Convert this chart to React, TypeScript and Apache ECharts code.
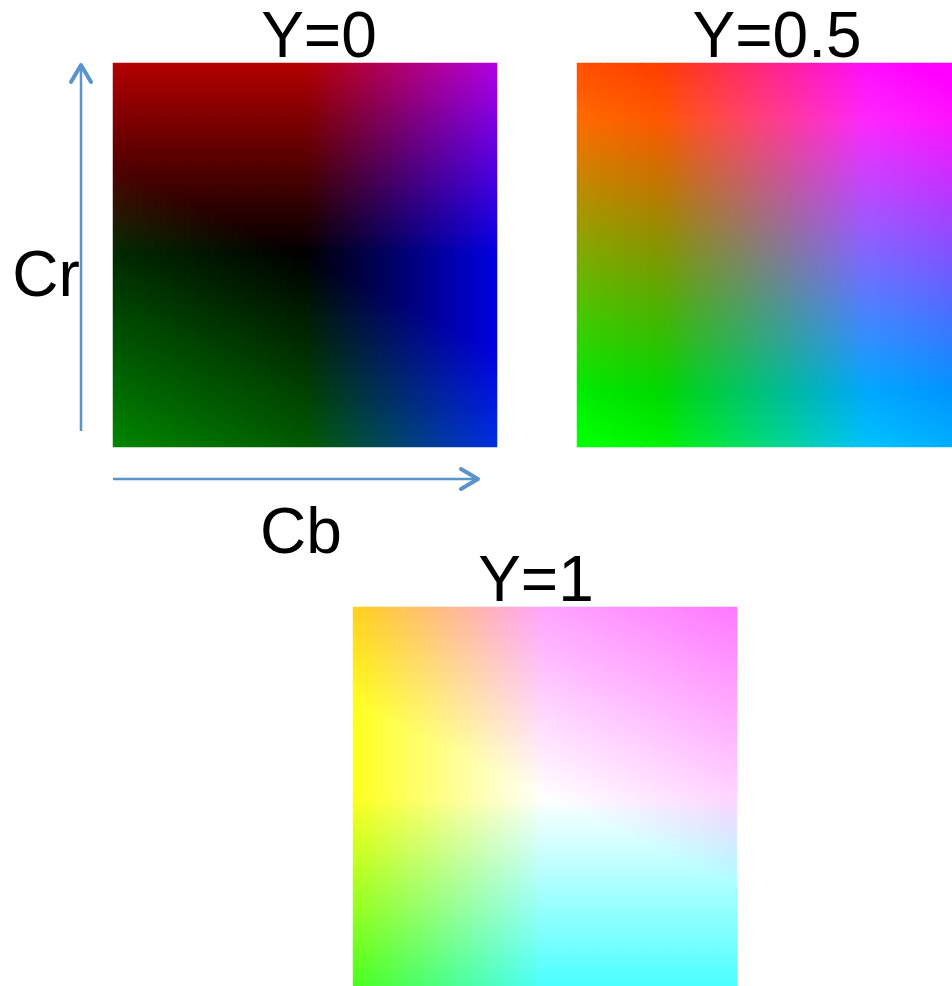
import React, { useEffect, useRef } from "react";
import * as echarts from "echarts";

// Luma levels shown in the three panels and their titles
const lumaLevels = [0, 0.5, 1];
const panelTitles = ["Y=0", "Y=0.5", "Y=1"];
// Chroma range of each panel (Cb horizontal, Cr vertical) and its sampling resolution
const chromaRange = [-0.5, 0.5];
const chromaSamples = 64;
// Axis labels
const axisNames = { horizontal: "Cb", vertical: "Cr" };

const chromaValues: number[] = [];
for (let i = 0; i < chromaSamples; i++) {
  chromaValues.push(
    chromaRange[0] + ((i + 0.5) / chromaSamples) * (chromaRange[1] - chromaRange[0])
  );
}

function clamp01(v: number) {
  return Math.max(0, Math.min(1, v));
}

// YCbCr (full range, BT.601) -> RGB colour
function ycbcrToRgb(y: number, cb: number, cr: number) {
  const r = clamp01(y + 1.402 * cr);
  const g = clamp01(y - 0.344136 * cb - 0.714136 * cr);
  const b = clamp01(y + 1.772 * cb);
  return `rgb(${Math.round(r * 255)},${Math.round(g * 255)},${Math.round(b * 255)})`;
}

const panelLayout = [
  { left: 113, top: 63 },
  { left: 577, top: 63 },
  { left: 353, top: 607 },
];
const titlePos = [
  { x: 319, y: 35 },
  { x: 777, y: 35 },
  { x: 536, y: 579 },
];

export default function App() {
  const ref = useRef<HTMLDivElement>(null);
  useEffect(() => {
    if (!ref.current) return;
    const chart = echarts.init(ref.current, null, { renderer: "svg" });
    const cats = chromaValues.map((v) => v.toFixed(4));
    const grids = panelLayout.map((p) => ({
      left: p.left,
      top: p.top,
      width: 384,
      height: 384,
      containLabel: false,
    }));
    const xAxes = lumaLevels.map((_, i) => ({
      type: "category",
      gridIndex: i,
      data: cats,
      show: false,
    }));
    const yAxes = lumaLevels.map((_, i) => ({
      type: "category",
      gridIndex: i,
      data: cats,
      show: false,
    }));
    const series = lumaLevels.map((yl, i) => {
      const data: number[][] = [];
      const colors: string[] = [];
      chromaValues.forEach((cb, xi) => {
        chromaValues.forEach((cr, yi) => {
          data.push([xi, yi]);
          colors.push(ycbcrToRgb(yl, cb, cr));
        });
      });
      return {
        type: "custom",
        xAxisIndex: i,
        yAxisIndex: i,
        data,
        silent: true,
        progressive: 0,
        clip: false,
        renderItem: (params: any, api: any) => {
          const pt = api.coord([api.value(0), api.value(1)]);
          const sz = api.size([1, 1]);
          const w = Math.ceil(sz[0]);
          const h = Math.ceil(sz[1]);
          const c = colors[params.dataIndex];
          return {
            type: "rect",
            shape: {
              x: Math.round(pt[0] - sz[0] / 2),
              y: Math.round(pt[1] - sz[1] / 2),
              width: w,
              height: h,
            },
            style: { fill: c, stroke: c, lineWidth: 0.5 },
            silent: true,
          };
        },
      };
    });
    const arrowColor = "#5b93cc";
    const textStyle = (t: string, x: number, y: number) => ({
      type: "text",
      x,
      y,
      silent: true,
      style: {
        text: t,
        fontFamily: "Liberation Sans, Arial, sans-serif",
        fontSize: 64,
        fill: "#000",
        textAlign: "center",
        textVerticalAlign: "middle",
      },
    });
    const graphic: any[] = [
      ...panelTitles.map((t, i) => textStyle(t, titlePos[i].x, titlePos[i].y)),
      textStyle(axisNames.horizontal, 301, 531),
      textStyle(axisNames.vertical, 46, 274),
      {
        type: "line",
        silent: true,
        shape: { x1: 81, y1: 431, x2: 81, y2: 65 },
        style: { stroke: arrowColor, lineWidth: 2.5 },
      },
      {
        type: "polyline",
        silent: true,
        shape: { points: [[71, 82], [81, 65], [91, 82]] },
        style: { stroke: arrowColor, lineWidth: 4, lineCap: "round", lineJoin: "round", fill: null },
      },
      {
        type: "line",
        silent: true,
        shape: { x1: 113, y1: 479, x2: 478, y2: 479 },
        style: { stroke: arrowColor, lineWidth: 2.5 },
      },
      {
        type: "polyline",
        silent: true,
        shape: { points: [[461, 469], [478, 479], [461, 489]] },
        style: { stroke: arrowColor, lineWidth: 4, lineCap: "round", lineJoin: "round", fill: null },
      },
    ];
    chart.setOption({
      animation: false,
      backgroundColor: "#ffffff",
      grid: grids,
      xAxis: xAxes,
      yAxis: yAxes,
      series,
      graphic,
    });
    return () => chart.dispose();
  }, []);
  return (
    <div
      ref={ref}
      style={{ position: "fixed", left: 0, top: 0, width: 952, height: 986 }}
    />
  );
}
